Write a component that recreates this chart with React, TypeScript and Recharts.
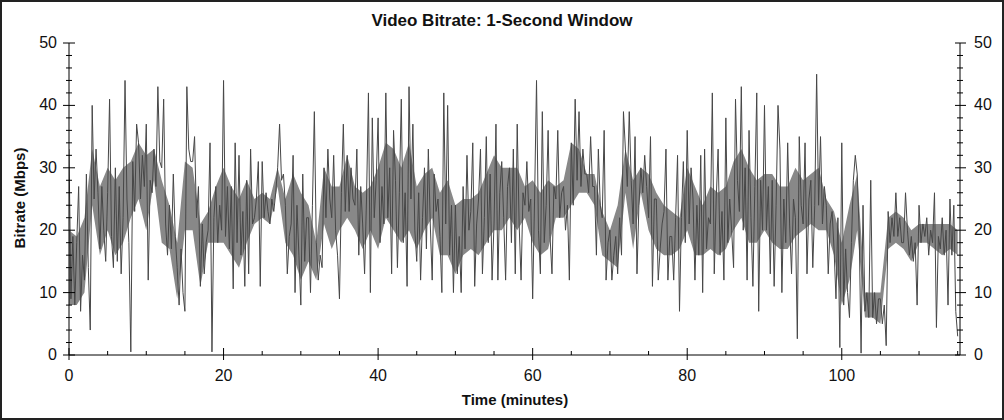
import { ComposedChart, Line, Area, XAxis, YAxis } from "recharts";

// Bitrate in Mbps, one sample every 15 seconds
const bitrate000 = [
  33, 9, 19, 8, 18, 27, 7, 16, 12, 29, 14, 4, 40, 25, 33, 26, 17, 27, 20, 15,
  26, 41, 19, 14, 30, 15, 27, 13, 22, 44, 25, 18, 0.5, 31, 23, 37, 34, 25, 32, 27
];
const bitrate010 = [
  37, 12, 28, 26, 33, 27, 43, 31, 30, 41, 21, 16, 24, 17, 29, 19, 14, 8, 17, 10,
  7, 43, 33, 31, 31, 35, 22, 27, 11, 21, 13, 18, 20, 34, 0.5, 22, 27, 18, 24, 20
];
const bitrate020 = [
  44, 19, 27, 17, 27, 10.6, 34, 18, 32, 16, 23, 11, 28, 13, 33, 21, 22, 25, 31, 11,
  31, 22, 26, 23, 21, 25, 23, 26, 30, 37, 28, 29, 24, 13, 19, 21, 32, 10, 24, 16
];
const bitrate030 = [
  8, 29, 15, 22, 22, 10, 24, 39, 18, 12, 16, 14, 30, 22, 33, 25, 22, 32, 20, 16,
  9, 26, 37, 23, 32, 23, 30, 25, 24, 33, 16, 27, 21, 13, 25, 42, 10, 38, 22, 28
];
const bitrate040 = [
  38, 18, 27, 21, 42, 22, 30, 13, 36, 28, 14, 26, 41, 18, 26, 11, 43, 25, 37, 20,
  15, 26, 12, 22, 30, 17, 33, 21, 12, 29, 23, 25, 19, 10, 42, 21, 40, 16, 24, 10
];
const bitrate050 = [
  24, 13, 19, 10, 27, 17, 32, 20, 23, 34, 11, 21, 25, 33, 13, 22, 35, 18, 29, 12,
  21, 37, 12, 26, 31, 22, 12, 27, 30, 18, 33, 13, 37, 21, 12, 26, 24, 31, 23, 25
];
const bitrate060 = [
  9, 25, 44, 20, 13, 39, 18, 24, 36, 19, 13, 27, 25, 36, 22, 26, 27, 20, 24, 12,
  34, 24, 41, 28, 39, 27, 33, 29, 29, 26, 35, 27, 27, 16, 33, 24, 22, 36, 12, 18
];
const bitrate070 = [
  20, 12, 16, 19, 13, 22, 16, 39, 33, 27, 39, 28, 21, 35, 13, 24, 30, 26, 32, 27,
  22, 35, 11, 25, 25, 12, 17, 21, 23, 33, 12, 19, 19, 12, 22, 32, 7, 22, 31, 18
];
const bitrate080 = [
  36, 21, 30, 25, 12, 24, 16, 32, 10, 33, 17, 22, 21, 42, 13, 25, 33, 16, 23, 12,
  38, 18, 25, 20, 14, 41, 28, 23, 43, 20, 30, 12, 36, 22, 11, 27, 42, 7, 28, 20
];
const bitrate090 = [
  40, 20, 27, 13, 28, 11, 24, 40, 33, 10, 25, 18, 34, 21, 13, 25, 22, 2.6, 35, 24,
  21, 34, 13, 25, 28, 14, 24, 45, 24, 35, 21, 27, 24, 13, 21, 23, 17, 9, 22, 1.2
];
const bitrate100 = [
  34, 8, 17, 10, 6, 18, 28, 32, 29, 20, 0.3, 24, 7, 10, 6, 28, 6, 10, 5, 9,
  9, 5, 8, 1.5, 23, 18, 22, 19, 26, 19, 22, 18, 18, 26, 20, 16, 19, 15, 18, 8,
  24, 18, 21, 19, 22, 16, 20, 18, 26, 4.4, 19, 17, 22, 16, 20, 8, 25, 16, 24, 7,
  3
];

// dense core of the trace, low / high per minute
const bandLow = [
  8, 8, 10, 24, 16, 20, 16, 18, 22, 25,
  20, 28, 18, 17, 9, 20, 20, 11, 18, 18,
  18, 16, 14, 18, 21, 22, 21, 27, 18, 16,
  12, 15, 12, 21, 17, 20, 22, 20, 17, 20,
  17, 22, 20, 18, 20, 17, 20, 22, 16, 16,
  13, 16, 17, 16, 18, 20, 20, 22, 20, 22,
  18, 16, 17, 22, 22, 24, 26, 26, 24, 16,
  15, 14, 26, 17, 26, 20, 17, 16, 16, 17,
  20, 16, 16, 17, 16, 17, 20, 22, 18, 18,
  20, 18, 17, 17, 19, 20, 21, 20, 20, 16,
  8, 12, 20, 6, 6, 5, 17, 18, 17, 15,
  18, 18, 17, 16, 17, 16
];
const bandHigh = [
  20, 19, 22, 33, 27, 30, 28, 30, 31, 34,
  32, 33, 28, 24, 18, 31, 30, 21, 23, 27,
  30, 27, 25, 28, 25, 26, 25, 30, 25, 29,
  26, 24, 18, 30, 27, 27, 32, 27, 26, 27,
  30, 34, 33, 30, 34, 27, 29, 30, 26, 28,
  24, 25, 25, 26, 29, 32, 30, 30, 30, 27,
  28, 26, 28, 27, 28, 34, 33, 29, 29, 23,
  20, 24, 33, 28, 30, 29, 26, 24, 23, 22,
  30, 27, 24, 27, 26, 27, 31, 33, 30, 28,
  29, 29, 27, 27, 30, 28, 29, 30, 25, 23,
  18, 24, 29, 10, 10, 10, 22, 23, 22, 20,
  21, 21, 21, 21, 21, 20
];

const SAMPLE_STEP_MIN = 0.25;
const timeTicks = [0, 5, 10, 15, 20, 25, 30, 35, 40, 45, 50, 55, 60, 65, 70, 75, 80, 85, 90, 95, 100, 105, 110, 115];
const rateTicks = [0, 2, 4, 6, 8, 10, 12, 14, 16, 18, 20, 22, 24, 26, 28, 30, 32, 34, 36, 38, 40, 42, 44, 46, 48, 50];

const bitrate = [
  ...bitrate000, ...bitrate010, ...bitrate020, ...bitrate030, ...bitrate040,
  ...bitrate050, ...bitrate060, ...bitrate070, ...bitrate080, ...bitrate090, ...bitrate100
];
const samples = bitrate.map((mbps, i) => ({ time: i * SAMPLE_STEP_MIN, mbps }));
const core = bandLow.map((lo, m) => ({ time: m, band: [lo, bandHigh[m]] }));

const FONT = "'Liberation Sans', Arial, sans-serif";
const INK = "#111";

function BottomTick(props: any) {
  const { x, y, payload } = props;
  const major = payload.value % 20 === 0;
  return (
    <g>
      <path d={`M${x},${major ? y - 7 : y - 4}V${major ? y + 5 : y}`} stroke="#000" strokeWidth={1} fill="none" />
      {major && (
        <text x={x} y={y + 26} textAnchor="middle" fontSize={16} fontFamily={FONT} fill={INK}>
          {payload.value}
        </text>
      )}
    </g>
  );
}

function TopTick(props: any) {
  const { x, y, payload } = props;
  const major = payload.value % 20 === 0;
  return <path d={`M${x},${y - 1}V${major ? y + 7 : y + 4}`} stroke="#000" strokeWidth={1} fill="none" />;
}

function LeftTick(props: any) {
  const { x, y, payload } = props;
  const major = payload.value % 10 === 0;
  return (
    <g>
      <path d={`M${major ? x - 6 : x - 3},${y}H${major ? x + 6 : x + 3}`} stroke="#000" strokeWidth={1} fill="none" />
      {major && (
        <text x={x - 12} y={y + 5} textAnchor="end" fontSize={16} fontFamily={FONT} fill={INK}>
          {payload.value}
        </text>
      )}
    </g>
  );
}

function RightTick(props: any) {
  const { x, y, payload } = props;
  const major = payload.value % 10 === 0;
  return (
    <g>
      <path d={`M${major ? x - 5 : x - 3},${y}H${major ? x + 6 : x + 3}`} stroke="#000" strokeWidth={1} fill="none" />
      {major && (
        <text x={x + 14} y={y + 5} textAnchor="start" fontSize={16} fontFamily={FONT} fill={INK}>
          {payload.value}
        </text>
      )}
    </g>
  );
}

export default function App() {
  return (
    <div style={{ position: "absolute", left: 0, top: 0, width: 1004, height: 420, background: "#fff" }}>
      <ComposedChart width={1004} height={420} margin={{ top: 43, right: 0, bottom: 0, left: 0 }}>
        <XAxis
          dataKey="time"
          type="number"
          domain={[0, 115.3]}
          allowDataOverflow
          ticks={timeTicks}
          interval={0}
          height={65}
          tickSize={0}
          tickMargin={0}
          tickLine={false}
          axisLine={{ stroke: "#000" }}
          tick={<BottomTick />}
        />
        <XAxis
          xAxisId="top"
          orientation="top"
          dataKey="time"
          type="number"
          domain={[0, 115.3]}
          allowDataOverflow
          ticks={timeTicks}
          interval={0}
          height={0}
          tickSize={0}
          tickMargin={0}
          tickLine={false}
          axisLine={{ stroke: "#000" }}
          tick={<TopTick />}
        />
        <YAxis
          yAxisId="left"
          type="number"
          domain={[0, 50]}
          allowDataOverflow
          ticks={rateTicks}
          interval={0}
          width={69}
          tickSize={0}
          tickMargin={0}
          tickLine={false}
          axisLine={{ stroke: "#000" }}
          tick={<LeftTick />}
        />
        <YAxis
          yAxisId="right"
          orientation="right"
          type="number"
          domain={[0, 50]}
          allowDataOverflow
          ticks={rateTicks}
          interval={0}
          width={44}
          tickSize={0}
          tickMargin={0}
          tickLine={false}
          axisLine={{ stroke: "#000" }}
          tick={<RightTick />}
        />
        <Area
          data={core}
          yAxisId="left"
          type="linear"
          dataKey="band"
          stroke="none"
          fill="#888"
          fillOpacity={1}
          isAnimationActive={false}
        />
        <Line
          data={samples}
          yAxisId="left"
          type="linear"
          dataKey="mbps"
          stroke="#474747"
          strokeWidth={1}
          dot={false}
          activeDot={false}
          isAnimationActive={false}
        />
        {/* same trace on the top/right axes so that those axes get a domain */}
        <Line
          data={samples}
          xAxisId="top"
          yAxisId="right"
          type="linear"
          dataKey="mbps"
          stroke="none"
          dot={false}
          activeDot={false}
          isAnimationActive={false}
        />
      </ComposedChart>
      <svg width={1004} height={420} style={{ position: "absolute", left: 0, top: 0, pointerEvents: "none" }}>
        <text x={502} y={26} textAnchor="middle" fontSize={17} fontWeight="bold" fontFamily={FONT} fill={INK}>
          Video Bitrate: 1-Second Window
        </text>
        <text x={515} y={405} textAnchor="middle" fontSize={15} fontWeight="bold" fontFamily={FONT} fill={INK}>
          Time (minutes)
        </text>
        <text
          transform="translate(25,198) rotate(-90)"
          textAnchor="middle"
          fontSize={15}
          fontWeight="bold"
          fontFamily={FONT}
          fill={INK}
        >
          Bitrate (Mbps)
        </text>
        <rect x={1} y={1} width={1002} height={418} fill="none" stroke="#222" strokeWidth={2} />
      </svg>
    </div>
  );
}
